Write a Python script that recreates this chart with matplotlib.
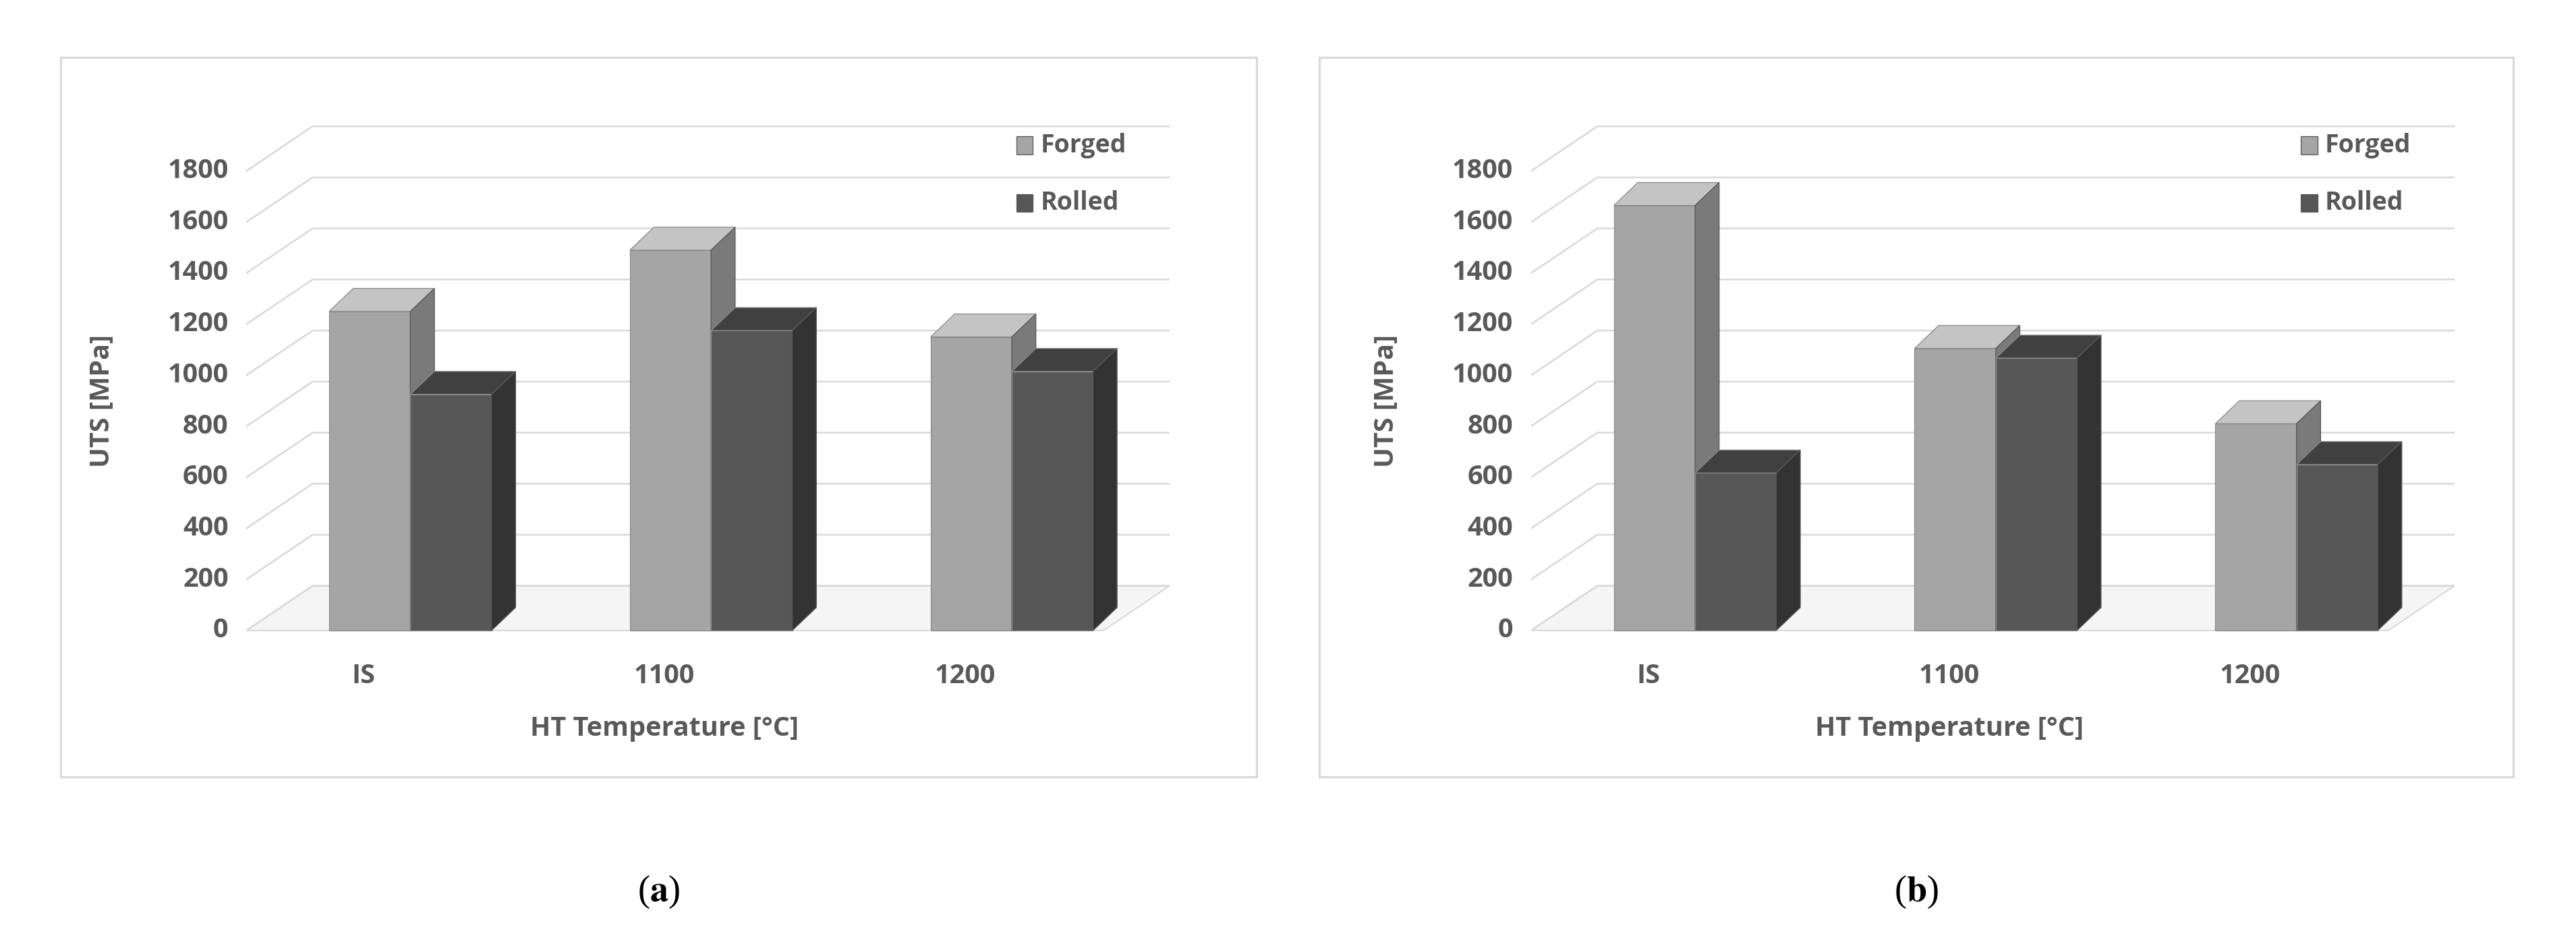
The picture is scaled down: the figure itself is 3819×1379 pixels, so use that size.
import matplotlib
matplotlib.use("Agg")
import matplotlib.pyplot as plt
from matplotlib.patches import Polygon, Rectangle
import numpy as np

plt.rcParams["mathtext.fontset"] = "stix"

categories = ["IS", "1100", "1200"]
series_names = ["Forged", "Rolled"]
uts_a_forged = [1250, 1490, 1150]
uts_a_rolled = [925, 1175, 1015]
uts_b_forged = [1665, 1105, 810]
uts_b_rolled = [617, 1067, 650]
yticks = list(range(0, 1801, 200))

W, H = 1568.0, 566.0  # layout reference units
TXT = "#595959"
FONT = "Open Sans"
colors = {
    "Forged": ("#a5a5a5", "#c4c4c4", "#7a7a7a"),
    "Rolled": ("#575757", "#404040", "#333333"),
}

fig = plt.figure(figsize=(3819 / 150, 1379 / 150), dpi=150)

# Depth offsets of the back wall and of bars (data units)
DX, DY = 0.22, 175
BDX, BDY = 0.08, 90
XL, XR = -0.39, 2.46


def panel(x0, forged, rolled, box, letter):
    # border box
    fig.patches.append(Rectangle((box[0] / W, 1 - 473 / H), (box[1] - box[0]) / W, (473 - 35) / H,
                                 transform=fig.transFigure, fill=False, ec="#d9d9d9", lw=1.5))
    ax = fig.add_axes([(x0 + 150) / W, (H - 407) / H, 562 / W, 334 / H])
    ax.set_xlim(XL, XR + DX)
    ax.set_ylim(-150, 2000)
    ax.axis("off")

    # floor
    ax.add_patch(Polygon([(XL, 0), (XR, 0), (XR + DX, DY), (XL + DX, DY)], closed=True,
                         fc="#f5f5f5", ec="#d9d9d9", lw=1, zorder=0))
    for v in yticks:
        ax.plot([XL, XL + DX, XR + DX], [v, v + DY, v + DY], color="#d9d9d9", lw=1.2, zorder=0)
        ax.text(XL - 0.06, v, str(v), ha="right", va="center", fontsize=19, fontweight="bold",
                color=TXT, family=FONT)

    pos = np.arange(len(categories))
    w = 0.27
    for k, (name, vals) in enumerate([("Forged", forged), ("Rolled", rolled)]):
        front, top, side = colors[name]
        left = pos - 0.115 + k * w
        ax.bar(left, vals, width=w, align="edge", color=front, edgecolor="#8a8a8a", lw=0.6, zorder=3 + k)
        for l, v in zip(left, vals):
            ax.add_patch(Polygon([(l, v), (l + w, v), (l + w + BDX, v + BDY), (l + BDX, v + BDY)],
                                 fc=top, ec="#8a8a8a", lw=0.6, zorder=3 + k))
            ax.add_patch(Polygon([(l + w, 0), (l + w + BDX, BDY), (l + w + BDX, v + BDY), (l + w, v)],
                                 fc=side, ec="#555555", lw=0.6, zorder=3 + k))

    for p, c in zip(pos, categories):
        ax.text(p, -180, c, ha="center", va="center", fontsize=19, fontweight="bold", color=TXT,
                family=FONT, clip_on=False)
    ax.text(1.0, -385, "HT Temperature [\u00b0C]", ha="center", va="center", fontsize=19,
            fontweight="bold", color=TXT, family=FONT, clip_on=False)
    ax.text(-0.87, 900, "UTS [MPa]", ha="center", va="center", rotation=90, fontsize=19,
            fontweight="bold", color=TXT, family=FONT, clip_on=False)

    # legend
    for j, name in enumerate(series_names):
        yv = 1900 - j * 225
        ax.add_patch(Rectangle((2.17, yv - 35), 0.055, 70, fc=colors[name][0], ec="#555555", lw=0.6))
        ax.text(2.25, yv, name, ha="left", va="center", fontsize=18, fontweight="bold", color=TXT,
                family=FONT)

    fig.text((box[0] + box[1]) / 2 / W, 1 - 543 / H, r"($\mathbf{%s}$)" % letter, ha="center",
             va="center", fontsize=26, family="Liberation Serif")


panel(0, uts_a_forged, uts_a_rolled, (37, 765), "a")
panel(782, uts_b_forged, uts_b_rolled, (803, 1530), "b")

fig.savefig("out.png", dpi=150, facecolor="white")
